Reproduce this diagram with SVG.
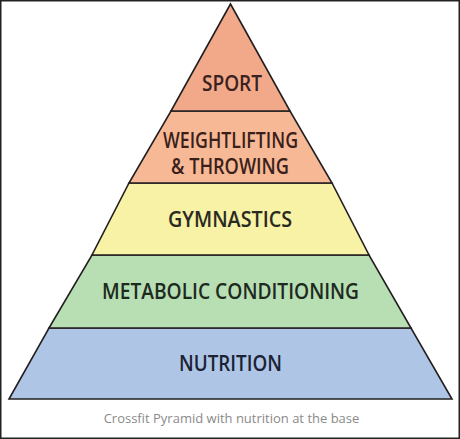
<svg xmlns="http://www.w3.org/2000/svg" width="460" height="439" viewBox="0 0 460 439">
<style>
.tier{stroke:#231f20;stroke-width:1.6;stroke-linejoin:miter}
.lbl{font-family:"Open Sans","Liberation Sans",sans-serif;font-weight:600;font-size:21px;text-anchor:middle}
.cap{font-family:"Open Sans","Liberation Sans",sans-serif;font-size:13px;fill:#8a8a8a;text-anchor:middle}
</style>
<rect x="0" y="0" width="460" height="439" fill="#ffffff"/>
<g id="nutrition">
<polygon class="tier" points="49,328 411,328 452,399 9,399" fill="#aec5e6"/>
<text class="lbl" x="230.5" y="371" fill="#1b2233" textLength="103" lengthAdjust="spacingAndGlyphs">NUTRITION</text>
</g>
<g id="metabolic-conditioning">
<polygon class="tier" points="92,255 369,255 411,328 49,328" fill="#b8deb3"/>
<text class="lbl" x="230.5" y="299" fill="#1d2a1e" textLength="257" lengthAdjust="spacingAndGlyphs">METABOLIC CONDITIONING</text>
</g>
<g id="gymnastics">
<polygon class="tier" points="129,183 332,183 369,255 92,255" fill="#f8f2a7"/>
<text class="lbl" x="230" y="227" fill="#2b2a20" textLength="124" lengthAdjust="spacingAndGlyphs">GYMNASTICS</text>
</g>
<g id="weightlifting-throwing">
<polygon class="tier" points="171,111 290,111 332,183 129,183" fill="#f7b896"/>
<text class="lbl" x="230.5" y="148" fill="#3a1f1a" textLength="135" lengthAdjust="spacingAndGlyphs">WEIGHTLIFTING</text>
<text class="lbl" x="230" y="174" fill="#3a1f1a" textLength="118" lengthAdjust="spacingAndGlyphs">&amp; THROWING</text>
</g>
<g id="sport">
<polygon class="tier" points="230.5,4 290,111 171,111" fill="#f2a98a"/>
<text class="lbl" x="232" y="90.5" fill="#3a2220" textLength="60" lengthAdjust="spacingAndGlyphs">SPORT</text>
</g>
<g id="connectors"></g>
<text class="cap" x="231.5" y="423">Crossfit Pyramid with nutrition at the base</text>
<rect x="0.75" y="0.75" width="458.5" height="437.5" fill="none" stroke="#222" stroke-width="1.5"/>
</svg>
